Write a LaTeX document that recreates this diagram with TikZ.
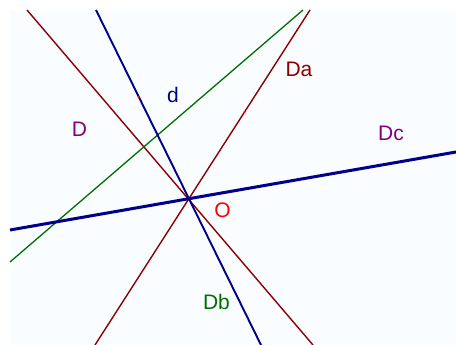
\documentclass[tikz,border=0pt]{standalone}
\usepackage{fontspec}
\setmainfont{Liberation Sans}
\definecolor{gdarkred}{RGB}{139,0,0}
\definecolor{gnavy}{RGB}{0,0,139}
\definecolor{ggreen}{RGB}{0,110,0}
\definecolor{gpurple}{RGB}{128,0,128}
\definecolor{gred}{RGB}{255,0,0}
\definecolor{gpaper}{RGB}{250,253,255}
\usetikzlibrary{positioning}

\begin{document}
\begin{tikzpicture}[x=1pt,y=-1pt,
    lbl/.style={font=\fontsize{21}{25}\selectfont,inner sep=0pt}]
  \useasboundingbox (0,0) rectangle (456,345);
  \fill[gpaper] (10,10) rectangle (456,345);
  % End points
  \coordinate (dTop) at (96,10);
  \coordinate (dBot) at (261,345);
  \coordinate (DaTop) at (310,10);
  \coordinate (DaBot) at (95,345);
  \coordinate (DbTop) at (27,10);
  \coordinate (DbBot) at (313,345);
  \coordinate (DcL) at (10,230);
  \coordinate (DcR) at (456,152);
  \coordinate (DL) at (10,262);
  \coordinate (DR) at (303,10);
  % Lines
  \draw[gdarkred,line width=1.4pt] (DbTop) -- (DbBot);
  \draw[gdarkred,line width=1.4pt] (DaTop) -- (DaBot);
  \draw[ggreen,line width=1.3pt] (DL) -- (DR);
  \draw[gnavy,line width=1.9pt] (dTop) -- (dBot);
  \draw[gnavy,line width=3pt] (DcL) -- (DcR);
  % Points
  \fill[gred] (138.5,97) circle (1.2pt);
  \fill[gred] (244.5,112) circle (1.2pt);
  % Labels
  \node[lbl,text=gdarkred] (labDa) at (299,69) {Da};
  \node[lbl,text=gnavy] (labd) at (173,95) {d};
  \node[lbl,text=gpurple] (labD) at (79.5,129.5) {D};
  \node[lbl,text=gpurple] (labDc) at (391,133) {Dc};
  \node[lbl,text=gred] (labO) at (222.5,210) {O};
  \node[lbl,text=ggreen] (labDb) at (216.5,301.5) {Db};
\end{tikzpicture}
\end{document}
